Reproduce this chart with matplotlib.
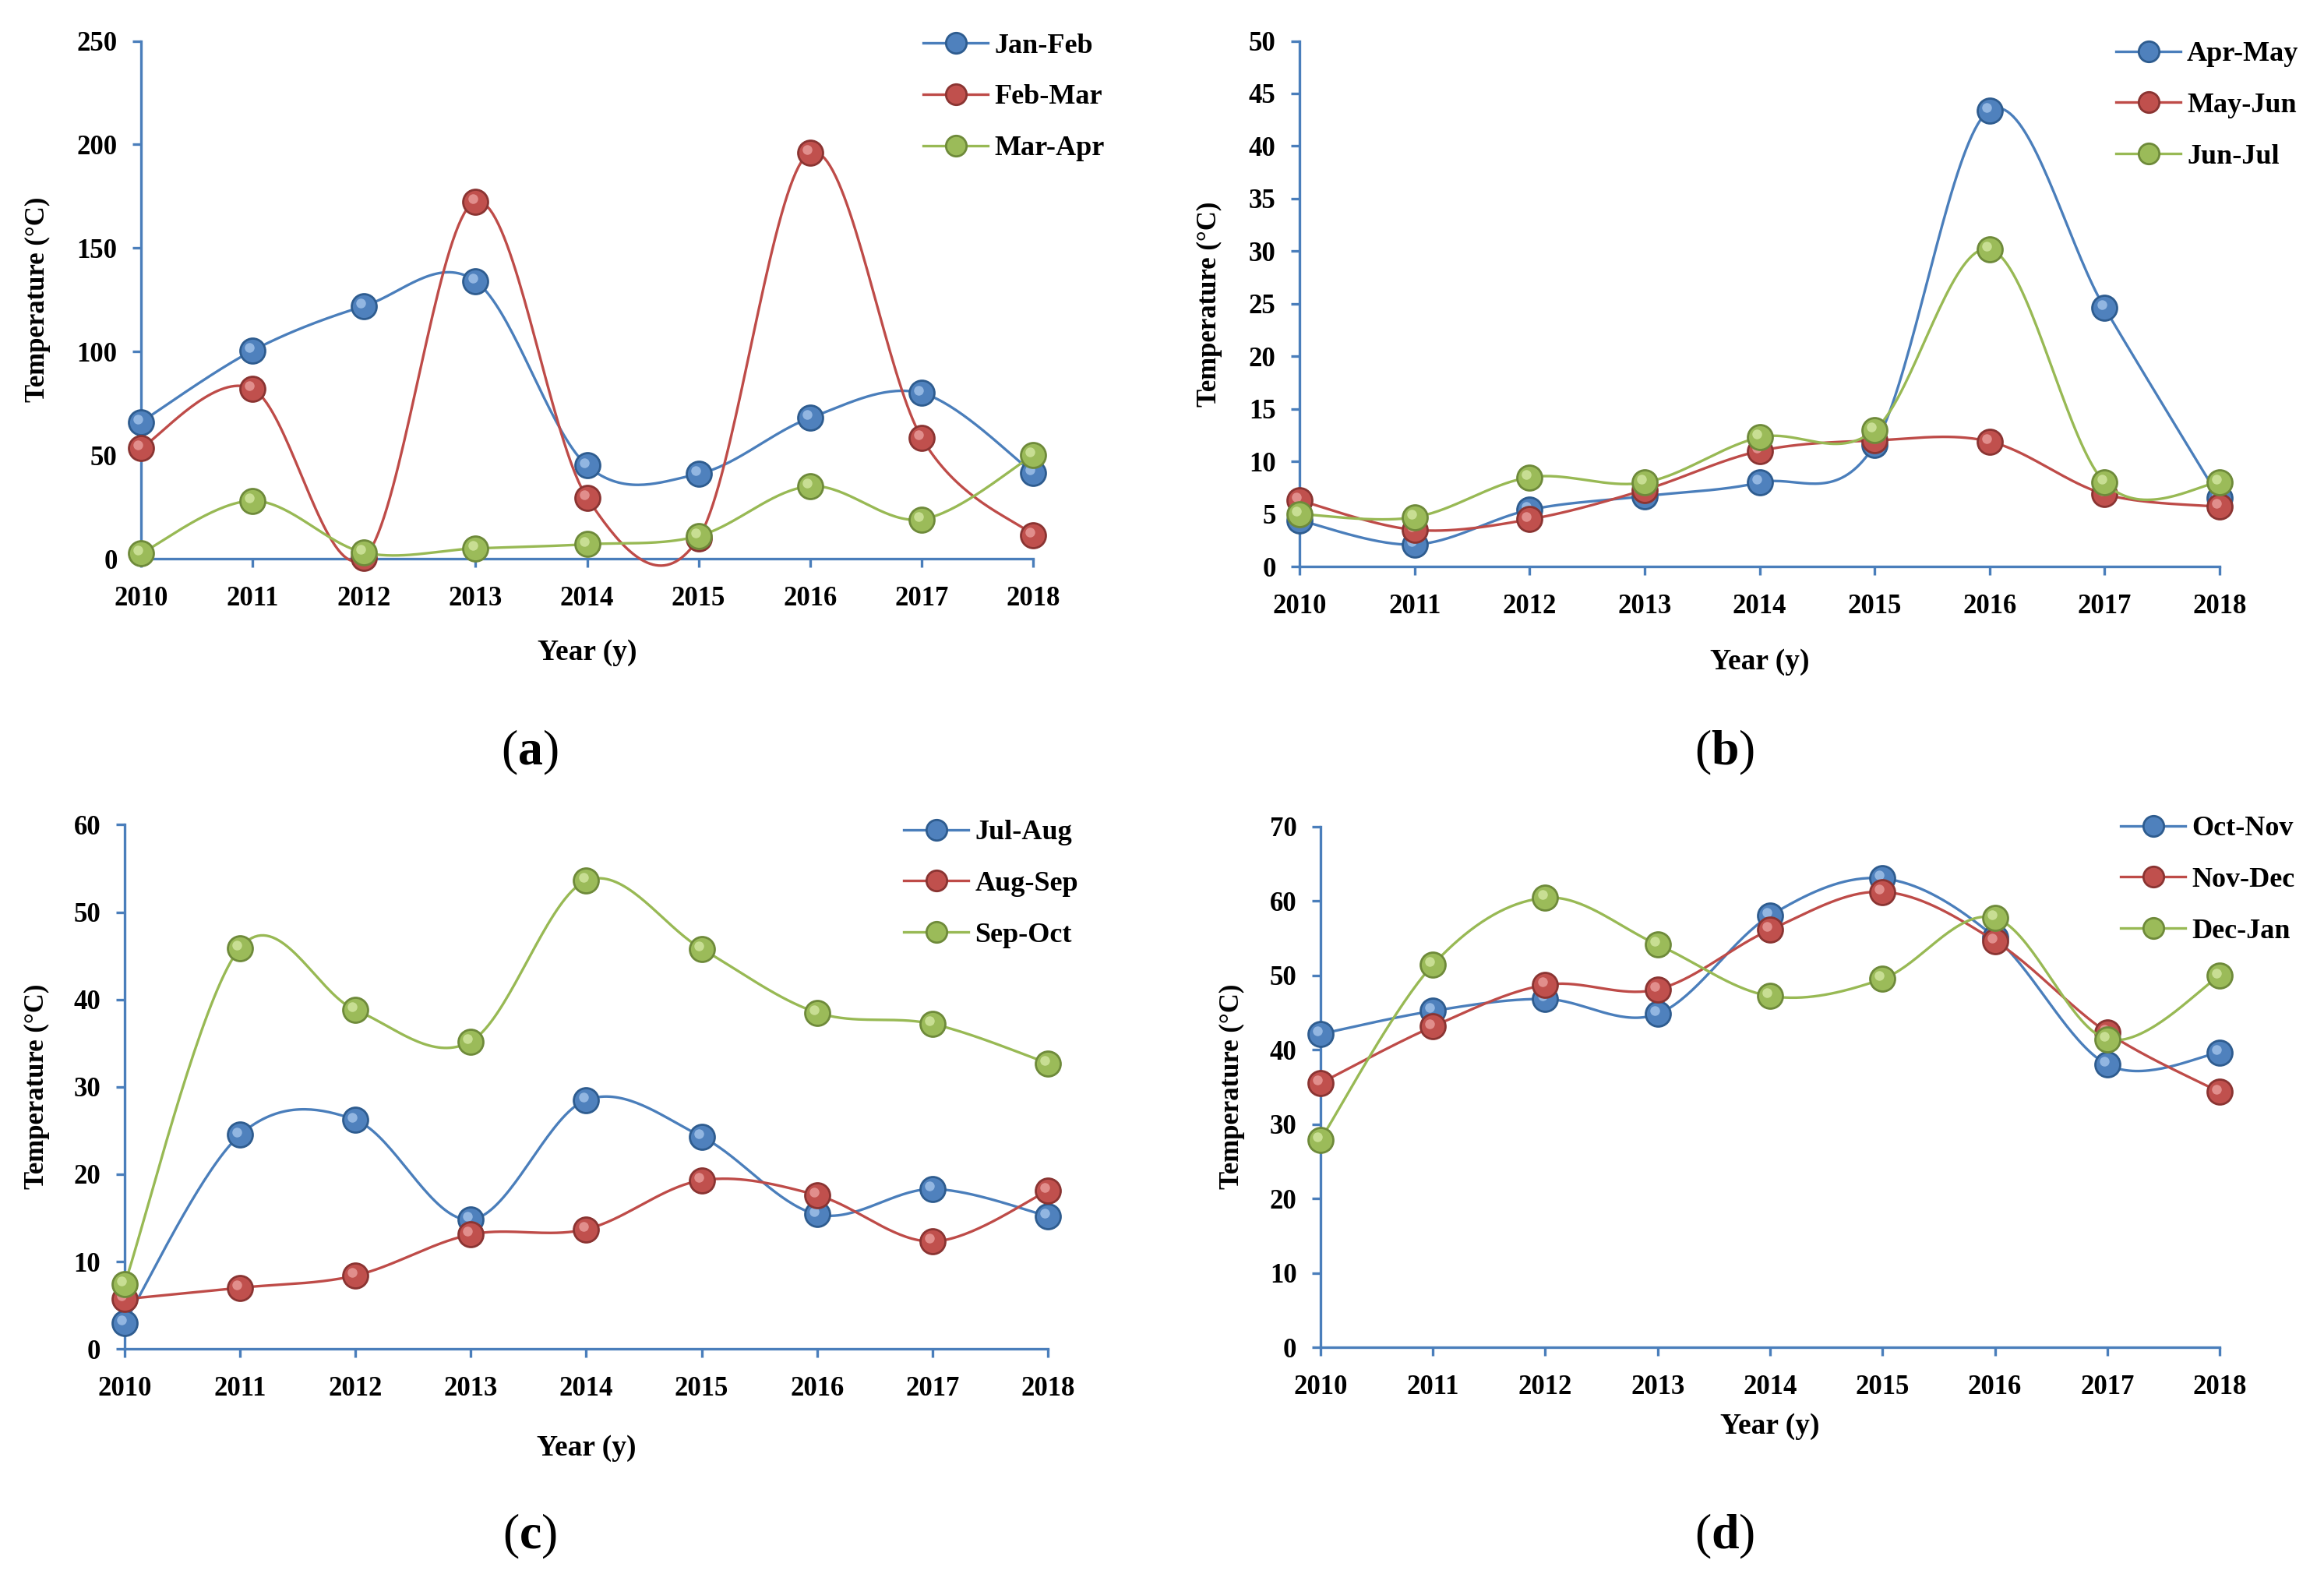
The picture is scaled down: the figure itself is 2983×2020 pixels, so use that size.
import numpy as np
import matplotlib
matplotlib.use("Agg")
import matplotlib.pyplot as plt
from matplotlib.lines import Line2D
from matplotlib import transforms

plt.rcParams['font.family'] = ['Liberation Serif', 'DejaVu Serif']
plt.rcParams['font.weight'] = 'bold'
plt.rcParams['mathtext.fontset'] = 'custom'
plt.rcParams['mathtext.rm'] = 'Liberation Serif'
plt.rcParams['mathtext.bf'] = 'Liberation Serif:bold'

years = [2010, 2011, 2012, 2013, 2014, 2015, 2016, 2017, 2018]

# panel (a)
labels_a = ['Jan-Feb', 'Feb-Mar', 'Mar-Apr']
jan_feb = [66, 100.5, 122, 134, 45, 41, 68, 80, 41.5]
feb_mar = [53.5, 82, 0.5, 172.5, 29.5, 10, 196, 58.5, 11.5]
mar_apr = [2.6, 28, 3, 5, 7, 11, 35, 19, 50]

# panel (b)
labels_b = ['Apr-May', 'May-Jun', 'Jun-Jul']
apr_may = [4.4, 2.1, 5.4, 6.7, 8.0, 11.6, 43.4, 24.6, 6.5]
may_jun = [6.3, 3.5, 4.5, 7.3, 11.0, 12.0, 11.9, 6.9, 5.7]
jun_jul = [5.0, 4.7, 8.5, 8.0, 12.3, 13.0, 30.2, 8.0, 8.0]

# panel (c)
labels_c = ['Jul-Aug', 'Aug-Sep', 'Sep-Oct']
jul_aug = [3.0, 24.5, 26.2, 14.8, 28.5, 24.3, 15.4, 18.3, 15.2]
aug_sep = [5.7, 7.0, 8.4, 13.1, 13.7, 19.3, 17.6, 12.3, 18.1]
sep_oct = [7.4, 45.9, 38.8, 35.2, 53.6, 45.8, 38.5, 37.2, 32.7]

# panel (d)
labels_d = ['Oct-Nov', 'Nov-Dec', 'Dec-Jan']
oct_nov = [42.1, 45.2, 46.8, 44.8, 58.0, 63.0, 55.1, 38.0, 39.6]
nov_dec = [35.5, 43.1, 48.7, 48.1, 56.1, 61.2, 54.6, 42.3, 34.3]
dec_jan = [27.9, 51.4, 60.4, 54.1, 47.2, 49.5, 57.7, 41.4, 49.9]

LINE = ['#4A7EBB', '#BE4B48', '#98B954']
FACE = ['#4F81BD', '#C0504D', '#9BBB59']
EDGE = ['#2E5C8F', '#8A3432', '#6E8A3A']
HIGH = ['#A9C8EE', '#EDA4A2', '#D8EAA8']
AXC = '#4A7EBB'


def smooth(x, y, n=40):
    # excel-like smoothed line (bezier through the points)
    pts = np.column_stack([x, y]).astype(float)
    P = np.vstack([pts[0], pts, pts[-1]])
    t = np.linspace(0, 1, n)[:, None]
    out = []
    for i in range(1, len(P) - 2):
        p0, p1, p2, p3 = P[i - 1], P[i], P[i + 1], P[i + 2]
        c1 = p1 + (p2 - p0) / 6
        c2 = p2 - (p3 - p1) / 6
        seg = (1 - t) ** 3 * p1 + 3 * (1 - t) ** 2 * t * c1 + 3 * (1 - t) * t ** 2 * c2 + t ** 3 * p2
        out.append(seg if i == 1 else seg[1:])
    return np.vstack(out)


fig = plt.figure(figsize=(14.915, 10.1), dpi=200)


def panel(rect, series, labels, ymax, ystep, ylab_x, xlab_y, leg_xy, tag, tag_xy):
    ax = fig.add_axes(rect)
    hl = transforms.offset_copy(ax.transData, fig=fig, x=-1.4, y=1.4, units='points')
    handles = []
    for k, (vals, lab) in enumerate(zip(series, labels)):
        c = smooth(years, vals)
        ax.plot(c[:, 0], c[:, 1], color=LINE[k], lw=1.2, zorder=2 + k * 3, clip_on=False)
        ax.plot(years, vals, 'o', ms=11.5, mfc=FACE[k], mec=EDGE[k], mew=1.0,
                zorder=3 + k * 3, clip_on=False)
        ax.plot(years, vals, 'o', ms=4.5, mfc=HIGH[k], mec='none', alpha=0.75,
                zorder=4 + k * 3, clip_on=False, transform=hl)
        handles.append(Line2D([], [], color=LINE[k], lw=1.2, marker='o', ms=9.5,
                              mfc=FACE[k], mec=EDGE[k], mew=1.0))
    ax.set_xlim(2010, 2018)
    ax.set_ylim(0, ymax)
    ax.set_xticks(years)
    ax.set_yticks(np.arange(0, ymax + 0.1, ystep))
    for s in ['top', 'right']:
        ax.spines[s].set_visible(False)
    for s in ['left', 'bottom']:
        ax.spines[s].set_color(AXC)
        ax.spines[s].set_linewidth(1.2)
    ax.tick_params(axis='both', direction='out', colors=AXC, length=4, width=1.2,
                   labelsize=12.5, labelcolor='black')
    ax.tick_params(axis='x', pad=8.5)
    ax.tick_params(axis='y', pad=7)
    for lbl in ax.get_xticklabels() + ax.get_yticklabels():
        lbl.set_fontweight('bold')
    ax.set_ylabel('Temperature (°C)', fontsize=12.5, fontweight='bold')
    ax.yaxis.set_label_coords(ylab_x, 0.5)
    ax.yaxis.label.set_va('center')
    ax.set_xlabel('Year (y)', fontsize=13.5, fontweight='bold')
    ax.xaxis.set_label_coords(0.5, xlab_y)
    ax.xaxis.label.set_va('center')
    ax.legend(handles, labels, loc='upper left', bbox_to_anchor=leg_xy,
              bbox_transform=fig.transFigure, frameon=False,
              handlelength=2.3, handletextpad=0.22, labelspacing=0.9,
              borderpad=0, borderaxespad=0, prop={'weight': 'bold', 'size': 13})
    fig.text(tag_xy[0], tag_xy[1], r'($\mathbf{%s}$)' % tag, fontsize=23,
             fontweight='normal', ha='center', va='center')
    return ax


panel([0.0607, 0.645, 0.3838, 0.329], [jan_feb, feb_mar, mar_apr], labels_a,
      250, 50, -0.116, -0.181, (0.3973, 0.979), 'a', (0.228, 0.522))
panel([0.5592, 0.640, 0.3959, 0.334], [apr_may, may_jun, jun_jul], labels_b,
      50, 5, -0.098, -0.181, (0.9105, 0.9738), 'b', (0.742, 0.522))
panel([0.0536, 0.143, 0.3973, 0.333], [jul_aug, aug_sep, sep_oct], labels_c,
      60, 10, -0.0945, -0.189, (0.389, 0.4792), 'c', (0.228, 0.024))
panel([0.5682, 0.144, 0.3869, 0.331], [oct_nov, nov_dec, dec_jan], labels_d,
      70, 10, -0.098, -0.151, (0.9125, 0.4817), 'd', (0.742, 0.024))

fig.savefig('out.png', dpi=200, facecolor='white')
